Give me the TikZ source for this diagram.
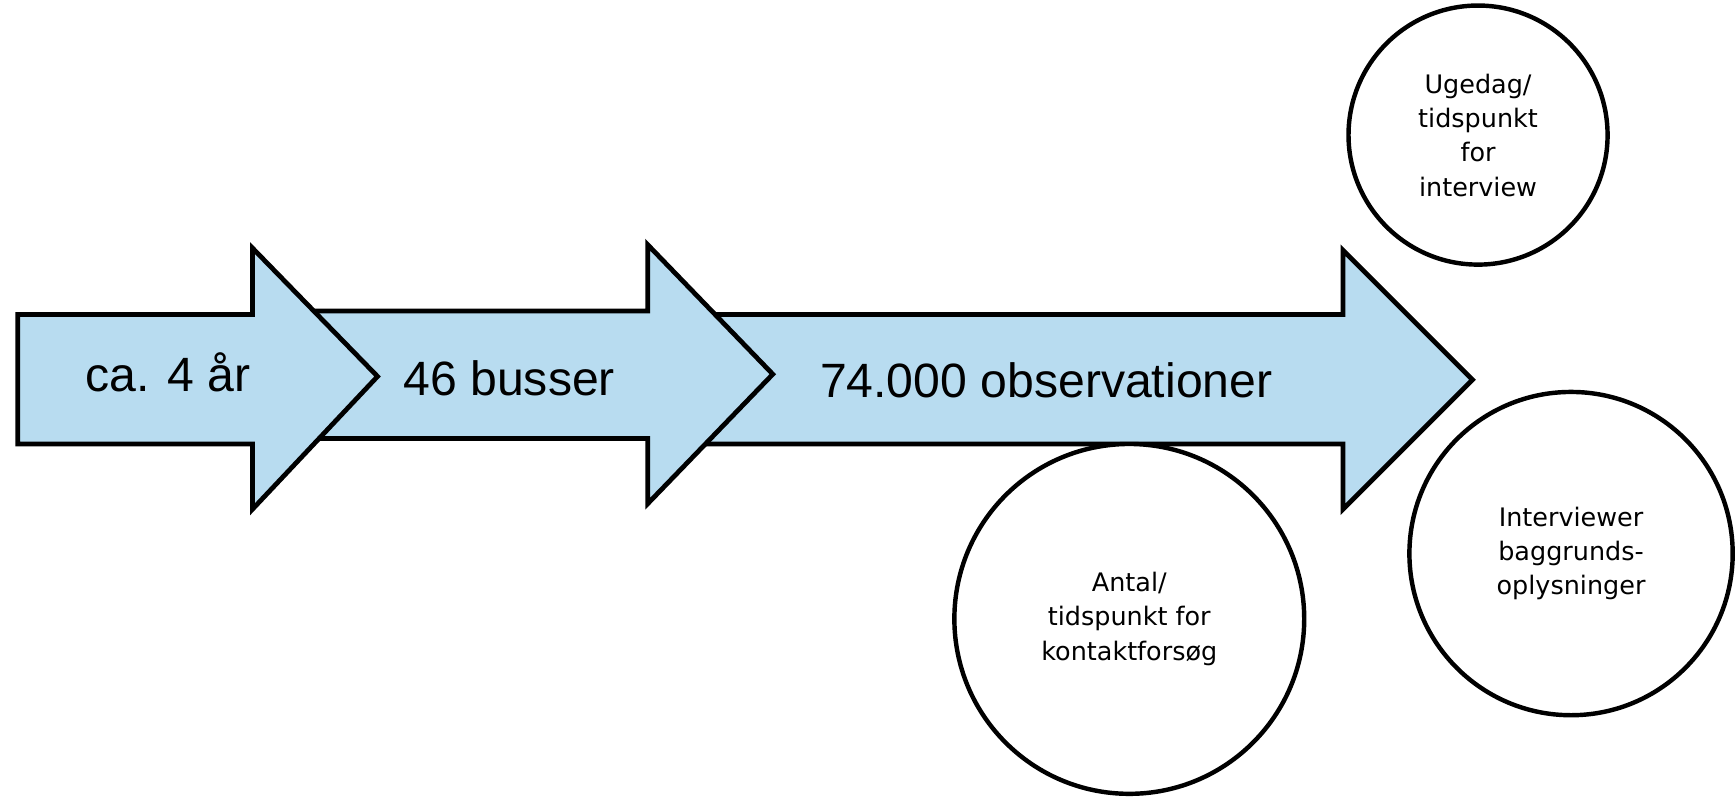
\documentclass[tikz,border=0pt]{standalone}
\usepackage{fontspec}
\usepackage{xcolor}
\setmainfont{Liberation Sans}
\newfontfamily\circlefont{DejaVu Sans}
\definecolor{arrowblue}{RGB}{184,220,240}

\begin{document}
\begin{tikzpicture}[x=1pt,y=-1pt,
    bigarrow/.style={draw=black,fill=arrowblue,line width=4.3pt,line join=miter},
    arrowtext/.style={anchor=base,font=\fontsize{43.5}{50}\selectfont},
    infocircle/.style={circle,draw=black,fill=white,line width=4pt,inner sep=0pt,
      align=center,font=\circlefont\fontsize{23}{31}\selectfont}]
  \useasboundingbox (0,0) rectangle (1568,720);
  \draw[bigarrow] (620,284) -- (1213,284) -- (1213,226) -- (1330,343) -- (1213,460) -- (1213,401) -- (620,401) -- cycle;
  \draw[bigarrow] (250,281) -- (585,281) -- (585,221) -- (698,338) -- (585,455) -- (585,396) -- (250,396) -- cycle;
  \draw[bigarrow] (16,284) -- (228,284) -- (228,224) -- (341,340) -- (228,460) -- (228,401) -- (16,401) -- cycle;
  \node(years) [arrowtext] at (152,354) {ca. 4 år};
  \node(buses) [arrowtext] at (460,357) {46 busser};
  \node(obs) [arrowtext] at (945,359) {74.000 observationer};
  \node(attempts) [infocircle,minimum size=316pt] at (1020,559) {Antal/\\tidspunkt for\\kontaktforsøg};
  \node(weekday) [infocircle,minimum size=234pt] at (1335,122) {Ugedag/\\tidspunkt\\for\\interview};
  \node(interviewer) [infocircle,minimum size=292pt] at (1419,500) {Interviewer\\baggrunds-\\oplysninger};
\end{tikzpicture}
\end{document}
